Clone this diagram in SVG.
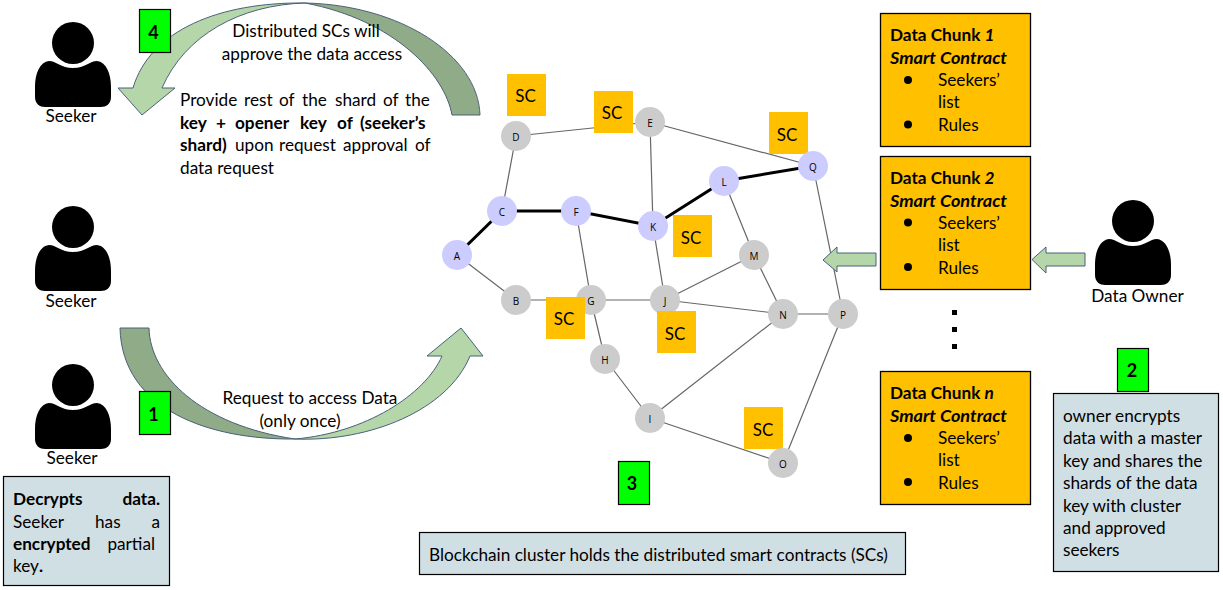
<svg xmlns="http://www.w3.org/2000/svg" width="1223" height="590" viewBox="0 0 1223 590">
<style>
text{font-family:"Lato","Open Sans","Liberation Sans",sans-serif;font-size:17.2px;fill:#000;transform:translateY(.5px)}
.b{font-weight:700}.i{font-style:italic}
.e{stroke:#666;stroke-width:1.2;fill:none}
.h{stroke:#000;stroke-width:3;fill:none}
.n{fill:#ccc}.v{fill:#ccf}
text.nl{font-size:10px;text-anchor:middle;font-family:"Open Sans",sans-serif}
.sc{fill:#ffc000}
text.sct{font-size:17px;text-anchor:middle}
.chunk{fill:#ffc000;stroke:#000;stroke-width:1.3}
.note{fill:#d0dfe3;stroke:#000;stroke-width:1.2}
.step{fill:#00ff00;stroke:#000;stroke-width:1.2}
text.stept{font-size:18px;font-weight:700;text-anchor:middle}
.c{text-anchor:middle}
.light{fill:#b5d6a8;stroke:#4a6078;stroke-width:1}
.dark{fill:#90ab87;stroke:#4a6078;stroke-width:1}
</style>
<defs>
<g id="person">
<circle cx="0" cy="0" r="21" fill="#000"/>
<path d="M-24 18C-17 18-12 25 0 25C12 25 17 18 24 18C33 19 38 30 38 44L38 54C38 61 33 64 28 64L-28 64C-33 64 -38 61 -38 54L-38 44C-38 30-33 19-24 18Z" fill="#000"/>
</g>
</defs>
<g id="connectors">
<path class="e" d="M457 255L516 300M516 300L591 300M591 300L665 300M591 300L605 359M605 359L650 418M650 418L783 463M650 418L783 314M576 211L591 300M516 136L502 211M516 136L650 122M650 122L653 226M650 122L813 166M653 226L665 300M724 181L754 255M754 255L665 300M754 255L783 314M665 300L783 314M783 314L843 314M843 314L783 463M813 166L843 314"/>
<path class="h" d="M457 255L502 211L576 211L653 226L724 181L813 166"/>
<path class="dark" d="M120 328L149 328C150 375 200 425 295 439C210 440 122 410 120 328Z"/>
<path class="light" d="M295 439C365 433 425 395 442 356L427 356L461 328L483 356L470 356C448 410 370 442 295 439Z"/>
<path class="dark" d="M305 3C400 5 478 55 480 115L452 115C445 75 395 20 305 3Z"/>
<path class="light" d="M305 3C220 2 150 30 133 88L118 88L142 115L175 88L162 88C185 35 240 5 305 3Z"/>
<path class="light" d="M876 253L837 253L837 247L823 260L837 272L837 266L876 266Z"/>
<path class="light" d="M1085 253L1046 253L1046 247L1032 259.500L1046 273L1046 266L1085 266Z"/>
</g>
<g id="seeker-top"><use href="#person" transform="translate(73 43)"/><text x="71" y="121" class="c">Seeker</text></g>
<g id="seeker-mid"><use href="#person" transform="translate(73 227)"/><text x="71" y="306" class="c">Seeker</text></g>
<g id="seeker-low"><use href="#person" transform="translate(73 385)"/><text x="72" y="463" class="c">Seeker</text></g>
<g id="data-owner"><use href="#person" transform="translate(1133 221)"/><text x="1137.500" y="301" class="c">Data Owner</text></g>
<g id="step-4"><rect class="step" x="139.500" y="9.500" width="31" height="43"/><text x="153.500" y="38" class="stept">4</text></g>
<g id="step-1"><rect class="step" x="139.500" y="391.500" width="31" height="43"/><text x="153.500" y="420" class="stept">1</text></g>
<g id="step-2"><rect class="step" x="1117.500" y="348.500" width="31" height="43"/><text x="1132" y="376" class="stept">2</text></g>
<g id="step-3"><rect class="step" x="618.500" y="461.500" width="31" height="43"/><text x="632" y="489" class="stept">3</text></g>
<g id="label-approve"><text x="306" y="36" class="c">Distributed SCs will</text><text x="312" y="59" class="c">approve the data access</text></g>
<g id="label-provide">
<text y="105"><tspan x="180">Provide</tspan><tspan x="244">rest</tspan><tspan x="279">of</tspan><tspan x="302">the</tspan><tspan x="335">shard</tspan><tspan x="383">of</tspan><tspan x="405">the</tspan></text>
<text y="128" class="b"><tspan x="180">key</tspan><tspan x="216">+</tspan><tspan x="235">opener</tspan><tspan x="300">key</tspan><tspan x="337">of</tspan><tspan x="360">(seeker’s</tspan></text>
<text y="150"><tspan x="180" class="b">shard)</tspan><tspan x="235">upon</tspan><tspan x="279">request</tspan><tspan x="343">approval</tspan><tspan x="415">of</tspan></text>
<text x="180" y="173">data request</text>
</g>
<g id="label-request"><text x="310" y="403" class="c">Request to access Data</text><text x="300" y="426" class="c">(only once)</text></g>
<g id="note-decrypts">
<rect class="note" x="3.500" y="476.500" width="166" height="109"/>
<text x="13" y="504" class="b">Decrypts</text><text x="160" y="504" class="b" text-anchor="end">data.</text>
<text x="13" y="527">Seeker</text><text x="95" y="527">has</text><text x="160" y="527" text-anchor="end">a</text>
<text x="13" y="549" class="b">encrypted</text><text x="155" y="549" text-anchor="end">partial</text>
<text x="13" y="571">key<tspan class="b">.</tspan></text>
</g>
<g id="note-cluster"><rect class="note" x="419.500" y="532.500" width="486" height="42"/><text x="429" y="560">Blockchain cluster holds the distributed smart contracts (SCs)</text></g>
<g id="note-owner">
<rect class="note" x="1053.500" y="393.500" width="165" height="178"/>
<text x="1063" y="421">owner encrypts</text><text x="1063" y="443">data with a master</text><text x="1063" y="466">key and shares the</text><text x="1063" y="488">shards of the data</text><text x="1063" y="511">key with cluster</text><text x="1063" y="533">and approved</text><text x="1063" y="555">seekers</text>
</g>
<g id="chunk-1"><rect class="chunk" x="880.500" y="13.500" width="150" height="133"/>
<text x="890" y="40" class="b">Data Chunk <tspan class="i">1</tspan></text><text x="890" y="63" class="b i" textLength="117" lengthAdjust="spacingAndGlyphs">Smart Contract</text><circle cx="908" cy="80" r="4"/><text x="938" y="85">Seekers’</text><text x="938" y="107">list</text><circle cx="908" cy="124.500" r="4"/><text x="938" y="130">Rules</text></g>
<g id="chunk-2"><rect class="chunk" x="880.500" y="156.500" width="150" height="133"/>
<text x="890" y="183" class="b">Data Chunk <tspan class="i">2</tspan></text><text x="890" y="206" class="b i" textLength="117" lengthAdjust="spacingAndGlyphs">Smart Contract</text><circle cx="908" cy="222.500" r="4"/><text x="938" y="228">Seekers’</text><text x="938" y="250">list</text><circle cx="908" cy="267" r="4"/><text x="938" y="273">Rules</text></g>
<g id="chunk-n"><rect class="chunk" x="880.500" y="371.500" width="150" height="133"/>
<text x="890" y="398" class="b">Data Chunk <tspan class="i">n</tspan></text><text x="890" y="421" class="b i" textLength="117" lengthAdjust="spacingAndGlyphs">Smart Contract</text><circle cx="908" cy="438" r="4"/><text x="938" y="443">Seekers’</text><text x="938" y="465">list</text><circle cx="908" cy="482" r="4"/><text x="938" y="488">Rules</text></g>
<g id="ellipsis"><rect x="952" y="310" width="5" height="5"/><rect x="952" y="327" width="5" height="5"/><rect x="952" y="344" width="5" height="5"/></g>
<g id="sc-3"><rect class="sc" x="769" y="112" width="39" height="42"/><text class="sct" x="787" y="140">SC</text></g>
<g id="sc-7"><rect class="sc" x="744" y="407" width="39" height="42"/><text class="sct" x="763" y="435">SC</text></g>
<g id="node-A"><circle class="v" cx="457" cy="255" r="15"/><text class="nl" x="457" y="259">A</text></g>
<g id="node-B"><circle class="n" cx="516" cy="300" r="15"/><text class="nl" x="516" y="304">B</text></g>
<g id="node-C"><circle class="v" cx="502" cy="211" r="15"/><text class="nl" x="502" y="215">C</text></g>
<g id="node-D"><circle class="n" cx="516" cy="136" r="15"/><text class="nl" x="516" y="140">D</text></g>
<g id="node-E"><circle class="n" cx="650" cy="122" r="15"/><text class="nl" x="650" y="126">E</text></g>
<g id="node-F"><circle class="v" cx="576" cy="211" r="15"/><text class="nl" x="576" y="215">F</text></g>
<g id="node-G"><circle class="n" cx="591" cy="300" r="15"/><text class="nl" x="591" y="304">G</text></g>
<g id="node-H"><circle class="n" cx="605" cy="359" r="15"/><text class="nl" x="605" y="363">H</text></g>
<g id="node-I"><circle class="n" cx="650" cy="418" r="15"/><text class="nl" x="650" y="422">I</text></g>
<g id="node-J"><circle class="n" cx="665" cy="300" r="15"/><text class="nl" x="665" y="304">J</text></g>
<g id="node-K"><circle class="v" cx="653" cy="226" r="15"/><text class="nl" x="653" y="230">K</text></g>
<g id="node-L"><circle class="v" cx="724" cy="181" r="15"/><text class="nl" x="724" y="185">L</text></g>
<g id="node-M"><circle class="n" cx="754" cy="255" r="15"/><text class="nl" x="754" y="259">M</text></g>
<g id="node-N"><circle class="n" cx="783" cy="314" r="15"/><text class="nl" x="783" y="318">N</text></g>
<g id="node-O"><circle class="n" cx="783" cy="463" r="15"/><text class="nl" x="783" y="467">O</text></g>
<g id="node-P"><circle class="n" cx="843" cy="314" r="15"/><text class="nl" x="843" y="318">P</text></g>
<g id="node-Q"><circle class="v" cx="813" cy="166" r="15"/><text class="nl" x="813" y="170">Q</text></g>
<g id="sc-1"><rect class="sc" x="507" y="74" width="39" height="42"/><text class="sct" x="525.500" y="101">SC</text></g>
<g id="sc-2"><rect class="sc" x="594" y="91" width="39" height="42"/><text class="sct" x="612" y="118">SC</text></g>
<g id="sc-4"><rect class="sc" x="673" y="215" width="39" height="42"/><text class="sct" x="691" y="243">SC</text></g>
<g id="sc-5"><rect class="sc" x="546" y="297" width="39" height="42"/><text class="sct" x="564" y="324">SC</text></g>
<g id="sc-6"><rect class="sc" x="657" y="311" width="39" height="42"/><text class="sct" x="675" y="339">SC</text></g>
</svg>
